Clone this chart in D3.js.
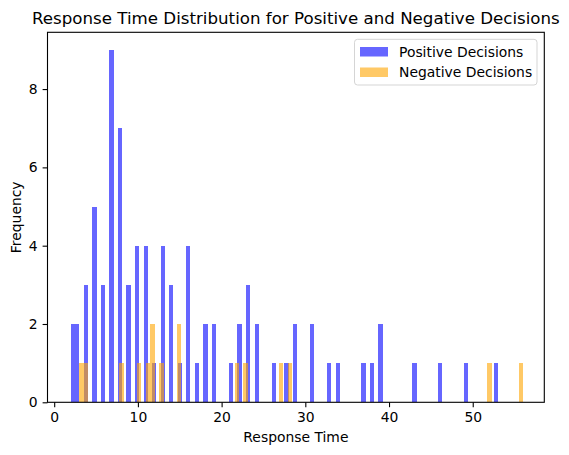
<!DOCTYPE html>
<html>
<head>
<meta charset="utf-8">
<script src="https://cdn.jsdelivr.net/npm/d3@7"></script>
<style>
  html, body { margin: 0; padding: 0; background: #fff; }
  svg { display: block; font-family: "DejaVu Sans", sans-serif; }
</style>
</head>
<body>
<svg id="chart" width="569" height="455"></svg>
<script>
// Response time values (integers) and how many times each occurs
const positiveValues = [2, 3, 4, 5, 6, 7, 8, 9, 10, 11, 12, 13, 14, 15, 16, 17, 18, 19, 21, 22, 23, 24, 26, 28, 29, 31, 33, 34, 37, 38, 39, 43, 46, 49, 53];
const positiveCounts = [2, 2, 3, 5, 3, 9, 7, 3, 4, 4, 1, 4, 3, 1, 4, 1, 2, 2, 1, 2, 3, 2, 1, 1, 2, 2, 1, 1, 1, 1, 2, 1, 1, 1, 1];
const negativeValues = [3, 4, 8, 10, 11, 12, 13, 15, 22, 23, 27, 28, 52, 56];
const negativeCounts = [1, 1, 1, 1, 1, 2, 1, 2, 1, 1, 1, 1, 1, 1];
const seriesNames = ["Positive Decisions", "Negative Decisions"];
const xTicks = [0, 10, 20, 30, 40, 50];
const yTicks = [0, 2, 4, 6, 8];
const binCount = 100;

const seriesColors = ["rgba(0,0,255,0.6)", "rgba(255,165,0,0.6)"];

function expand(values, counts) {
  const out = [];
  values.forEach((v, i) => { for (let k = 0; k < counts[i]; k++) out.push(v); });
  return out;
}
function histogram(samples) {
  const [lo, hi] = d3.extent(samples);
  const step = (hi - lo) / binCount;
  const thresholds = d3.range(1, binCount).map(i => lo + i * step);
  return d3.bin().domain([lo, hi]).thresholds(thresholds)(samples);
}

const posBins = histogram(expand(positiveValues, positiveCounts));
const negBins = histogram(expand(negativeValues, negativeCounts));

const svg = d3.select("#chart");
const L = 47.5, R = 544.3, T = 32.3, B = 402.3;

const x = d3.scaleLinear().domain([-0.8, 58.55]).range([L, R]);
const y = d3.scaleLinear().domain([0, 9.45]).range([B, T]);

const plot = svg.append("g");
[posBins, negBins].forEach((bins, si) => {
  plot.append("g").selectAll("rect")
    .data(bins.filter(b => b.length > 0))
    .join("rect")
    .attr("x", d => x(d.x0))
    .attr("width", d => x(d.x1) - x(d.x0))
    .attr("y", d => y(d.length))
    .attr("height", d => y(0) - y(d.length))
    .attr("fill", seriesColors[si])
    .attr("shape-rendering", "crispEdges");
});

// axes
const xAxis = svg.append("g").attr("transform", `translate(0,${B})`)
  .call(d3.axisBottom(x).tickValues(xTicks).tickSize(4.9).tickPadding(4.9).tickFormat(d3.format("d")));
const yAxis = svg.append("g").attr("transform", `translate(${L},0)`)
  .call(d3.axisLeft(y).tickValues(yTicks).tickSize(4.9).tickPadding(4.9).tickFormat(d3.format("d")));
[xAxis, yAxis].forEach(a => {
  a.select(".domain").remove();
  a.selectAll(".tick line").attr("stroke", "#000").attr("stroke-width", 1.1);
  a.selectAll(".tick text").attr("font-size", "13.9px").attr("fill", "#000")
    .attr("font-family", "DejaVu Sans, sans-serif");
});

// frame
svg.append("rect").attr("x", L).attr("y", T).attr("width", R - L).attr("height", B - T)
  .attr("fill", "none").attr("stroke", "#000").attr("stroke-width", 1.1);

// title & labels
svg.append("text").attr("x", (L + R) / 2).attr("y", 24).attr("text-anchor", "middle")
  .attr("font-size", "16.67px").attr("fill", "#000")
  .text("Response Time Distribution for Positive and Negative Decisions");
svg.append("text").attr("x", (L + R) / 2).attr("y", 442).attr("text-anchor", "middle")
  .attr("font-size", "13.9px").attr("fill", "#000").text("Response Time");
svg.append("text").attr("transform", `translate(21,${(T + B) / 2}) rotate(-90)`)
  .attr("text-anchor", "middle").attr("font-size", "13.9px").attr("fill", "#000").text("Frequency");

// legend
const lg = svg.append("g");
lg.append("rect").attr("x", 354.5).attr("y", 39.3).attr("width", 182.5).attr("height", 45.7)
  .attr("rx", 3).attr("fill", "rgba(255,255,255,0.8)").attr("stroke", "#d5d5d5").attr("stroke-width", 1);
seriesNames.forEach((name, i) => {
  const cy = 51.5 + i * 20.5;
  lg.append("rect").attr("x", 360).attr("y", cy - 4.5).attr("width", 28).attr("height", 9.5)
    .attr("fill", seriesColors[i]);
  lg.append("text").attr("x", 399).attr("y", cy + 5).attr("font-size", "13.9px")
    .attr("fill", "#000").text(name);
});
</script>
</body>
</html>
